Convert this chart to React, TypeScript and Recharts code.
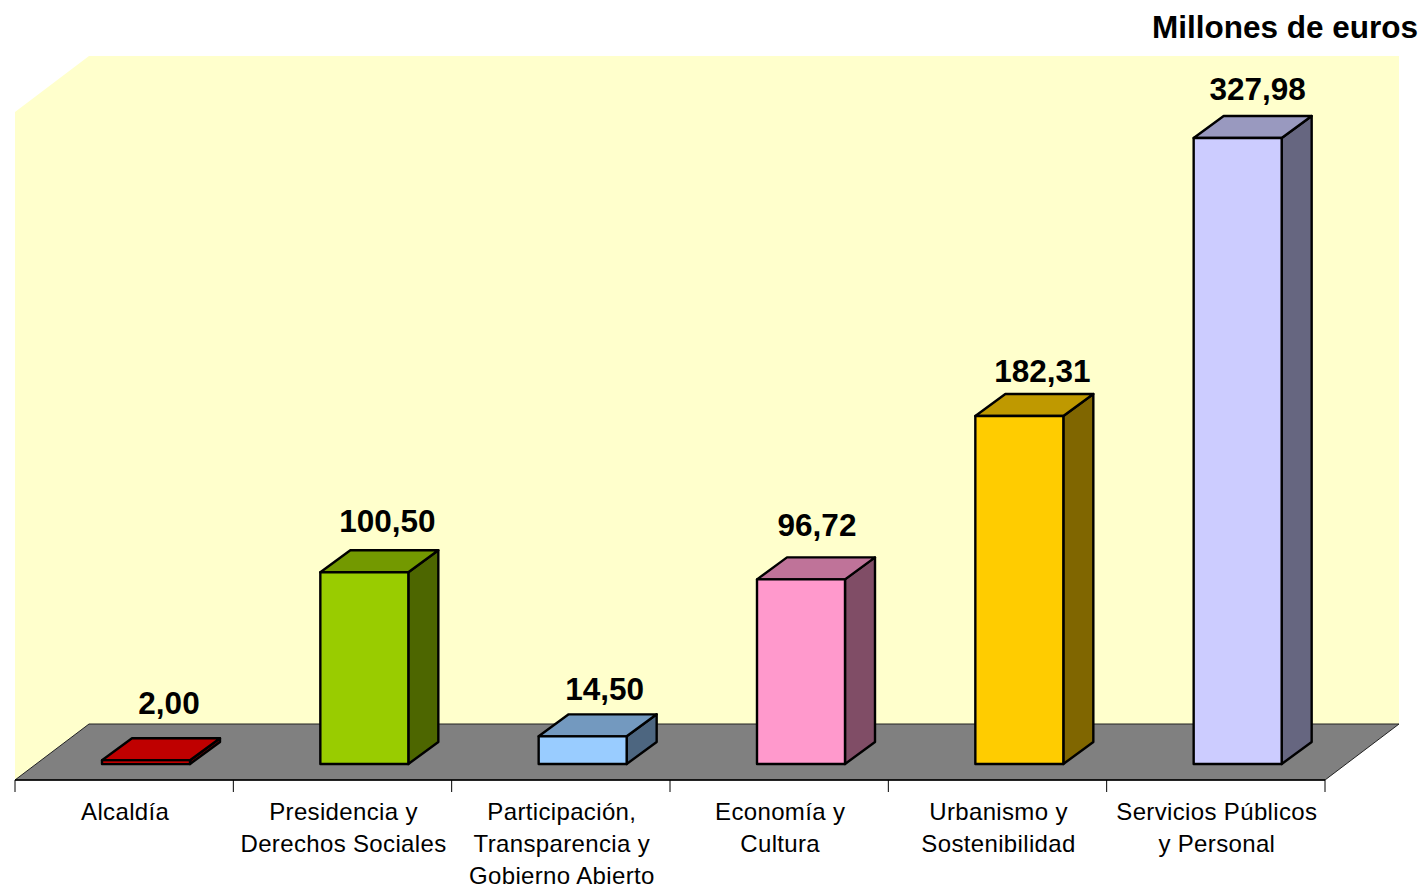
import { Bar, BarChart, LabelList, XAxis, YAxis } from "recharts";

const categories = [
  "Alcaldía",
  "Presidencia y\nDerechos Sociales",
  "Participación,\nTransparencia y\nGobierno Abierto",
  "Economía y\nCultura",
  "Urbanismo y\nSostenibilidad",
  "Servicios Públicos\ny Personal",
];
const amounts = [2.0, 100.5, 14.5, 96.72, 182.31, 327.98];
const frontColors = ["#FF0000", "#99CC00", "#99CCFF", "#FF99CC", "#FFCC00", "#CCCCFF"];
const topColors = ["#BF0000", "#739900", "#7399BF", "#BF7399", "#BF9900", "#9999BF"];
const sideColors = ["#800000", "#4D6600", "#4D6680", "#804D66", "#806600", "#666680"];

const data = categories.map((name, i) => ({ name, amount: amounts[i] }));

const WIDTH = 1425;
const HEIGHT = 887;
const FONT = '"Liberation Sans", Arial, sans-serif';

// plot box = front edge of the floor and the front plane of the wall
const LEFT = 15;
const RIGHT = 1325;
const TOP = 112;
const BOTTOM = 780;
const BAND = (RIGHT - LEFT) / categories.length;

// how far the back wall sits behind the front plane
const WALL_DX = 74;
const WALL_DY = 56;
// bars stand a little way in on the floor
const BAR_DX = 22;
const BAR_DY = 16;
// depth of each box
const DEPTH_X = 30;
const DEPTH_Y = 22;

// value labels were placed by hand in the original, so they don't sit evenly
const labelShiftX = [23, 23, 22, 16, 23, 20];
const labelShiftY = [-46, -40, -36, -43, -34, -38];

const pts = (list: number[][]) => list.map((p) => p.join(",")).join(" ");

function Backdrop() {
  return (
    <g>
      <polygon
        points={pts([
          [LEFT, TOP],
          [LEFT + WALL_DX, TOP - WALL_DY],
          [RIGHT + WALL_DX, TOP - WALL_DY],
          [RIGHT + WALL_DX, BOTTOM - WALL_DY],
          [LEFT + WALL_DX, BOTTOM - WALL_DY],
          [LEFT, BOTTOM],
        ])}
        fill="#FFFFCC"
      />
      <polygon
        points={pts([
          [LEFT, BOTTOM],
          [LEFT + WALL_DX, BOTTOM - WALL_DY],
          [RIGHT + WALL_DX, BOTTOM - WALL_DY],
          [RIGHT, BOTTOM],
        ])}
        fill="#808080"
        stroke="#222222"
        strokeWidth={1}
      />
      <line x1={LEFT} y1={BOTTOM} x2={RIGHT} y2={BOTTOM} stroke="#000" strokeWidth={1.5} />
    </g>
  );
}

function BoxBar(props: any) {
  const { x, y, width, height, index } = props;
  const left = x + BAR_DX;
  const right = left + width;
  const top = y - BAR_DY;
  const bottom = top + height;
  const common = { stroke: "#000", strokeWidth: 2.4, strokeLinejoin: "round" as const };
  return (
    <g>
      <polygon
        points={pts([
          [right, top],
          [right + DEPTH_X, top - DEPTH_Y],
          [right + DEPTH_X, bottom - DEPTH_Y],
          [right, bottom],
        ])}
        fill={sideColors[index]}
        {...common}
      />
      <polygon
        points={pts([
          [left, top],
          [left + DEPTH_X, top - DEPTH_Y],
          [right + DEPTH_X, top - DEPTH_Y],
          [right, top],
        ])}
        fill={topColors[index]}
        {...common}
      />
      <rect x={left} y={top} width={width} height={height} fill={frontColors[index]} {...common} />
    </g>
  );
}

function ValueLabel(props: any) {
  const { x, y, width, value, index } = props;
  return (
    <text
      x={x + width / 2 + BAR_DX + labelShiftX[index]}
      y={y - BAR_DY + labelShiftY[index]}
      textAnchor="middle"
      fontFamily={FONT}
      fontWeight="bold"
      fontSize={31.5}
      fill="#000"
    >
      {Number(value).toFixed(2).replace(".", ",")}
    </text>
  );
}

function CategoryTick(props: any) {
  const { x, index, payload } = props;
  const left = x - BAND / 2;
  const lines = String(payload.value).split("\n");
  return (
    <g>
      <line x1={left} y1={BOTTOM} x2={left} y2={BOTTOM + 12} stroke="#000" strokeWidth={1} />
      {index === categories.length - 1 && (
        <line x1={left + BAND} y1={BOTTOM} x2={left + BAND} y2={BOTTOM + 12} stroke="#000" strokeWidth={1} />
      )}
      <text textAnchor="middle" fontFamily={FONT} fontSize={24} fill="#000" letterSpacing={0.35}>
        {lines.map((line, i) => (
          <tspan key={i} x={x + 1} y={BOTTOM + 40 + i * 32}>
            {line}
          </tspan>
        ))}
      </text>
    </g>
  );
}

export default function App() {
  return (
    <div style={{ position: "absolute", left: 0, top: 0, width: WIDTH, height: HEIGHT, background: "#fff" }}>
      <BarChart
        width={WIDTH}
        height={HEIGHT}
        data={data}
        margin={{ top: TOP, left: LEFT, right: WIDTH - RIGHT, bottom: 0 }}
      >
        <Backdrop />
        <XAxis
          dataKey="name"
          axisLine={false}
          tickLine={false}
          interval={0}
          height={HEIGHT - BOTTOM}
          tick={<CategoryTick />}
        />
        <YAxis hide domain={[0, 350]} />
        <Bar dataKey="amount" barSize={88} isAnimationActive={false} shape={<BoxBar />}>
          <LabelList dataKey="amount" content={<ValueLabel />} />
        </Bar>
        <text x={1418} y={38} textAnchor="end" fontFamily={FONT} fontWeight="bold" fontSize={31.5} fill="#000">
          Millones de euros
        </text>
      </BarChart>
    </div>
  );
}
